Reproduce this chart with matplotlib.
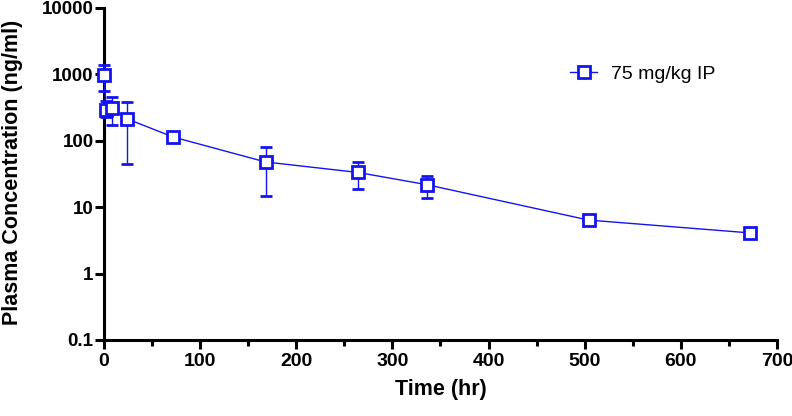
import matplotlib
matplotlib.use("Agg")
import matplotlib.pyplot as plt
import numpy as np
from matplotlib.ticker import FixedLocator, FixedFormatter
from matplotlib.lines import Line2D

# Data
time_hr = [0.5, 2, 8, 24, 72, 168, 264, 336, 504, 672]
conc_mean = [980, 290, 317, 214, 114, 48, 33.4, 21.8, 6.4, 4.1]
conc_upper = [1390, 400, 463, 382, 114, 82, 48, 29.8, 6.4, 4.1]
conc_lower = [555, 227, 170, 44.7, 114, 14.9, 19, 13.7, 6.4, 4.1]
series_label = "75 mg/kg IP"
x_ticks = [0, 100, 200, 300, 400, 500, 600, 700]
x_minor_ticks = [50, 150, 250, 350, 450, 550, 650]
y_ticks = [0.1, 1, 10, 100, 1000, 10000]
y_tick_labels = ["0.1", "1", "10", "100", "1000", "10000"]

plt.rcParams['font.family'] = ['Liberation Sans', 'DejaVu Sans']

blue = '#1414f0'

fig = plt.figure(figsize=(7.92, 4.16), dpi=100)
ax = fig.add_axes([104 / 792, 1 - 340 / 416, (777 - 104) / 792, (340 - 8) / 416])

mean = np.array(conc_mean)
yerr = [mean - np.array(conc_lower), np.array(conc_upper) - mean]

ax.errorbar(time_hr, conc_mean, yerr=yerr, color=blue, lw=1.0,
            elinewidth=1.0, capsize=4.5, capthick=1.0,
            marker='s', markersize=8.5, markerfacecolor='white',
            markeredgecolor=blue, markeredgewidth=2.0,
            clip_on=False, zorder=3)

ax.set_yscale('log')
ax.set_xlim(0, 700)
ax.set_ylim(0.1, 10000)

ax.yaxis.set_major_locator(FixedLocator(y_ticks))
ax.yaxis.set_major_formatter(FixedFormatter(y_tick_labels))
ax.yaxis.set_minor_locator(FixedLocator([]))
ax.xaxis.set_major_locator(FixedLocator(x_ticks))
ax.xaxis.set_minor_locator(FixedLocator(x_minor_ticks))

for s in ['top', 'right']:
    ax.spines[s].set_visible(False)
for s in ['left', 'bottom']:
    ax.spines[s].set_linewidth(2.2)
    ax.spines[s].set_color('black')

ax.tick_params(axis='both', which='major', direction='out', length=6.5, width=2.2, pad=3)
ax.tick_params(axis='y', which='major', labelsize=13.5, pad=1)
ax.tick_params(axis='x', which='major', labelsize=14)
ax.tick_params(axis='x', which='minor', direction='out', length=4.5, width=2.2)
for lab in ax.get_xticklabels() + ax.get_yticklabels():
    lab.set_fontweight('bold')

ax.set_xlabel('Time (hr)', fontsize=15.5, fontweight='bold', labelpad=6)
ax.set_ylabel('Plasma Concentration (ng/ml)', fontsize=15.5, fontweight='bold')
ax.yaxis.set_label_coords(-0.121, 0.505)

handle = Line2D([], [], color=blue, lw=1.0, marker='s', markersize=8.5,
                markerfacecolor='white', markeredgecolor=blue, markeredgewidth=2.0)
ax.legend([handle], [series_label], loc='center left', bbox_to_anchor=(0.6925, 0.801),
          frameon=False, fontsize=14, handlelength=1.4, handletextpad=0.7,
          borderaxespad=0, borderpad=0)

fig.savefig('out.png', dpi=100)
